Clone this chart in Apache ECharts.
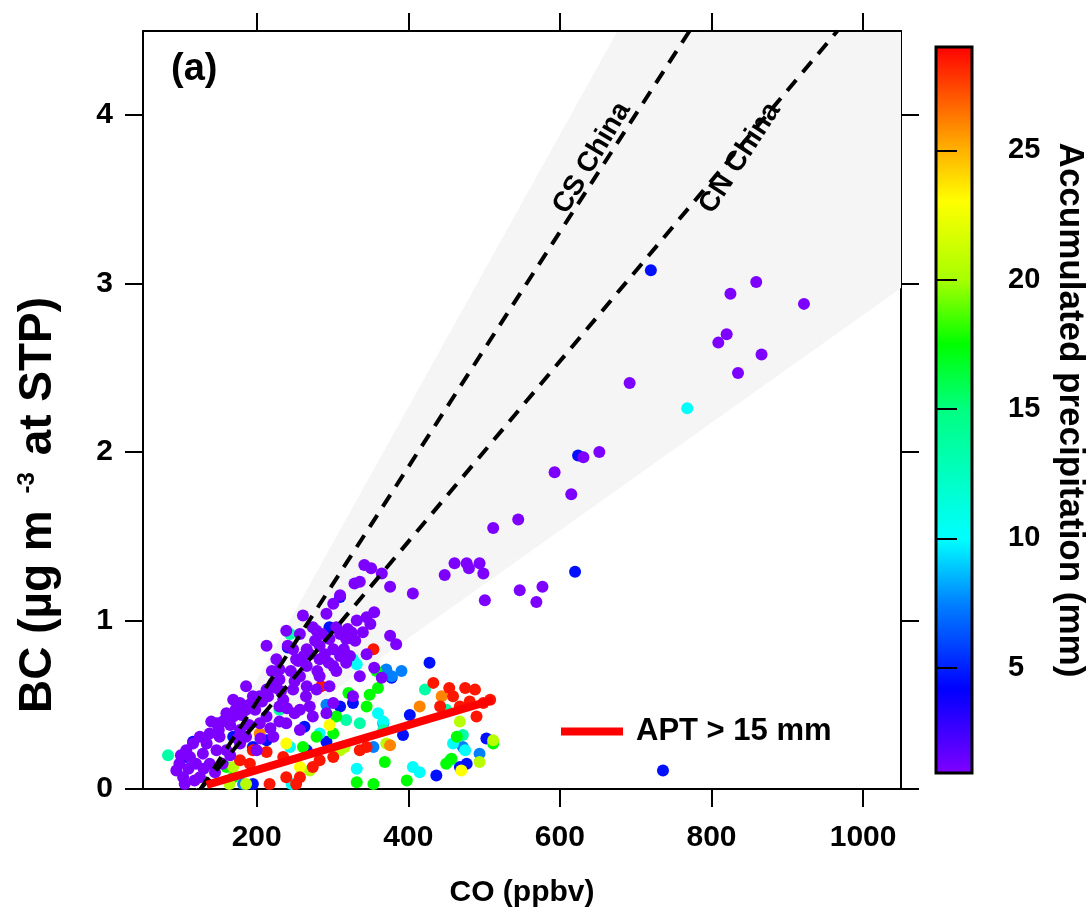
<!DOCTYPE html>
<html><head><meta charset="utf-8">
<script src="https://cdn.jsdelivr.net/npm/echarts@6/dist/echarts.min.js"></script>
<style>html,body{margin:0;padding:0;background:#fff}#c{width:1088px;height:913px}</style>
</head><body><div id="c"></div>
<script>
// ---- axis ticks ----
const coTicks = [200, 400, 600, 800, 1000];
const bcTicks = [0, 1, 2, 3, 4];
const aptTicks = [5, 10, 15, 20, 25];

// ---- reference lines / shading (CO ppbv, BC ug m-3) ----
const csChina = [[126, 0], [771, 4.5]];
const cnChina = [[126, 0], [966, 4.5]];
const wedge = [[120, 0], [676, 4.5], [1050, 4.5], [1050, 2.975]];
const aptFit = [[134, 0.024], [512, 0.529]];

// ---- observations grouped by accumulated precipitation (mm) ----
const aptPurple = 1.0;
const ptsPurple = [[342,1.33],[351,1.31],[329,1.22],[336,1.23],[376,1.20],[406,1.16],[448,1.27],[461,1.34],[477,1.34],[480,1.31],[494,1.34],[499,1.28],[501,1.12],[547,1.18],[569,1.11],[577,1.20],[310,1.15],[301,1.10],[292,1.04],[332,1.00],[325,0.93],[340,0.93],[376,0.91],[384,0.86],[279,0.94],[257,0.92],[241,0.85],[226,0.77],[230,0.71],[213,0.85],[239,0.94],[261,1.03],[274,0.96],[266,0.73],[283,0.77],[301,0.83],[310,0.92],[310,0.79],[323,0.79],[336,0.67],[296,0.61],[270,0.49],[292,0.45],[257,0.67],[279,0.59],[235,0.53],[222,0.63],[186,0.61],[169,0.53],[160,0.45],[186,0.47],[204,0.55],[138,0.33],[116,0.27],[98,0.15],[105,0.03],[112,0.19],[147,0.23],[134,0.27],[204,0.39],[178,0.35],[160,0.23],[138,0.15],[125,0.07],[200,0.23],[239,0.39],[257,0.35],[222,0.31],[318,0.89],[305,0.96],[296,0.89],[283,0.85],[266,0.83],[252,0.77],[248,0.83],[230,0.65],[213,0.59],[195,0.55],[178,0.51],[169,0.43],[147,0.39],[151,0.31],[125,0.31],[107,0.23],[94,0.11],[103,0.07],[120,0.15],[129,0.21],[178,0.27],[186,0.31],[213,0.43],[230,0.49],[248,0.59],[266,0.61],[283,0.67],[301,0.73],[318,0.75],[274,0.43],[301,0.51],[327,0.55],[257,0.47],
  [150,0.35],[155,0.40],[165,0.38],[172,0.47],[180,0.44],[190,0.50],[198,0.47],[207,0.52],[215,0.55],[220,0.70],[226,0.60],[232,0.58],[245,0.70],[250,0.64],[255,0.76],[262,0.79],[270,0.80],[277,0.88],[286,0.92],[290,0.80],[295,0.75],[305,0.70],[315,0.83],[320,0.95],[330,0.88],[345,0.80],[355,0.72],[365,0.66],[280,0.70],[265,0.55],[250,0.45],[240,0.48],[230,0.40],[218,0.36],[205,0.30],[190,0.38],[175,0.30],[165,0.20],[155,0.15],[145,0.10],[130,0.12],[118,0.05],[110,0.12],[100,0.20],[140,0.40],[355,1.05],[365,1.28],[345,1.02],[350,0.98],
  [512,1.55],[545,1.60],[859,3.01],[825,2.94],[922,2.88],[820,2.70],[809,2.65],[866,2.58],[835,2.47],[692,2.41],[631,1.97],[652,2.00],[593,1.88],[615,1.75]];
const aptBlue = 4.6;
const ptsBlue = [[428,0.75],[503,0.30],[468,0.13],[477,0.15],[437,0.08],[402,0.44],[393,0.32],[378,0.66],[327,0.51],[310,0.49],[263,0.37],[241,0.84],[296,0.96],[321,0.90],[310,1.14],[195,0.25],[213,0.29],[116,0.28],[107,0.19],[266,0.23],[292,0.28],[169,0.31],[195,0.03],[736,0.11],[720,3.08],[624,1.98],[620,1.29]];
const aptAzure = 7.5;
const ptsAzure = [[391,0.70],[378,0.67],[371,0.71],[494,0.21],[472,0.25],[292,0.50],[354,0.25],[367,0.39],[182,0.03]];
const aptCyan = 10.2;
const ptsCyan = [[327,0.77],[332,0.74],[332,0.12],[360,0.45],[367,0.40],[406,0.13],[415,0.10],[475,0.23],[459,0.27],[283,0.33],[246,0.03],[244,0.25],[768,2.26]];
const aptSpring = 13.5;
const ptsSpring = [[422,0.59],[450,0.47],[230,0.47],[367,0.35],[318,0.41],[336,0.39],[455,0.17],[472,0.32],[83,0.20],[244,0.92]];
const aptGreen = 17.5;
const ptsGreen = [[358,0.70],[369,0.16],[349,0.56],[360,0.60],[321,0.57],[345,0.49],[305,0.43],[332,0.04],[354,0.03],[398,0.05],[464,0.31],[512,0.27],[457,0.18],[450,0.15],[301,0.33],[279,0.31],[261,0.25],[160,0.13],[169,0.07]];
const aptLime = 20.5;
const ptsLime = [[468,0.40],[494,0.16],[512,0.29],[371,0.27],[310,0.23],[316,0.25],[270,0.11],[186,0.03],[169,0.13],[164,0.03]];
const aptYellow = 23;
const ptsYellow = [[296,0.38],[239,0.27],[257,0.13],[470,0.11]];
const aptOrange = 26;
const ptsOrange = [[415,0.49],[444,0.55],[204,0.33],[376,0.26]];
const aptRed = 28.5;
const ptsRed = [[354,0.83],[285,0.61],[433,0.63],[454,0.60],[475,0.60],[488,0.59],[490,0.43],[508,0.53],[499,0.51],[442,0.49],[468,0.49],[195,0.23],[213,0.22],[191,0.15],[235,0.19],[217,0.03],[239,0.07],[257,0.07],[274,0.13],[336,0.23],[345,0.25],[301,0.19],[283,0.17],[178,0.17],[252,0.03],[481,0.52],[459,0.55]];

// ---- colour scale (style) ----
const aptMin = 0.93, aptMax = 29;
const cmap = [[0.93,'#8000ff'],[4.2,'#0000ff'],[7.5,'#0080ff'],[10,'#00ffff'],[15,'#00ff80'],[17.5,'#00ff00'],[20,'#a8ff00'],[23,'#ffff00'],[25,'#ffb000'],[29,'#ff0000']];
function hex2rgb(h){return [parseInt(h.substr(1,2),16),parseInt(h.substr(3,2),16),parseInt(h.substr(5,2),16)];}
function colorAt(v){
  if (v <= cmap[0][0]) return cmap[0][1];
  for (let i=1;i<cmap.length;i++){
    if (v <= cmap[i][0]){
      const a=hex2rgb(cmap[i-1][1]), b=hex2rgb(cmap[i][1]);
      const t=(v-cmap[i-1][0])/(cmap[i][0]-cmap[i-1][0]);
      return 'rgb('+a.map((c,k)=>Math.round(c+(b[k]-c)*t)).join(',')+')';
    }
  }
  return cmap[cmap.length-1][1];
}
const barGradient = {type:'linear', x:0, y:1, x2:0, y2:0, colorStops: cmap.map(s=>({offset:(s[0]-aptMin)/(aptMax-aptMin), color:s[1]}))};

const groups = [[ptsBlue,aptBlue],[ptsAzure,aptAzure],[ptsCyan,aptCyan],[ptsSpring,aptSpring],[ptsGreen,aptGreen],[ptsLime,aptLime],[ptsYellow,aptYellow],[ptsOrange,aptOrange],[ptsRed,aptRed],[ptsPurple,aptPurple]];
const scatterData = [];
groups.forEach(g => g[0].forEach(p => scatterData.push([p[0], p[1], g[1]])));

const FONT = "'Liberation Sans', Arial, sans-serif";
const txt = (size) => ({fontSize:size, fontWeight:'bold', color:'#000', fontFamily:FONT});
const axLine = {show:true, onZero:false, lineStyle:{color:'#000', width:2}};
const tick = (vals, len) => ({show:true, inside:false, length:len || 18, customValues:vals, lineStyle:{color:'#000', width:2}});
const plain = v => String(v);

const chart = echarts.init(document.getElementById('c'));
chart.setOption({
  animation:false,
  backgroundColor:'#fff',
  title:{text:'(a)', left:166, top:46, textStyle:txt(38)},
  legend:{data:['APT > 15 mm'], left:556, top:711, icon:'rect', itemWidth:62, itemHeight:8, textStyle:Object.assign(txt(31),{padding:[0,0,0,8]})},
  grid:[
    {left:143, top:31, width:758, height:758, show:false},
    {left:936, top:47, width:40, height:726, show:true, backgroundColor:barGradient, borderColor:'#000', borderWidth:3}
  ],
  xAxis:[
    {type:'value', gridIndex:0, position:'bottom', min:50, max:1050,
     name:'CO (ppbv)', nameLocation:'middle', nameGap:89, nameTextStyle:txt(30),
     axisLine:axLine, axisTick:tick(coTicks), axisLabel:Object.assign(txt(30),{customValues:coTicks, margin:34, formatter:plain}), splitLine:{show:false}},
    {type:'value', gridIndex:0, position:'top', min:50, max:1050, z:3,
     axisLine:axLine, axisTick:tick(coTicks), axisLabel:{show:false}, splitLine:{show:false}},
    {type:'value', gridIndex:1, min:0, max:1, show:false}
  ],
  yAxis:[
    {type:'value', gridIndex:0, position:'left', min:0, max:4.5,
     name:'{a|BC (µg m }{s|-3}{a| at STP)}', nameLocation:'middle', nameGap:64, nameRotate:90,
     nameTextStyle:{padding:[0,190,0,0], rich:{
       a:Object.assign(txt(46),{lineHeight:46, verticalAlign:'bottom'}),
       s:Object.assign(txt(24),{lineHeight:24, verticalAlign:'top', padding:[0,4,46,4]})}},
     axisLine:axLine, axisTick:tick(bcTicks), axisLabel:Object.assign(txt(30),{customValues:bcTicks, margin:30, formatter:plain}), splitLine:{show:false}},
    {type:'value', gridIndex:0, position:'right', min:0, max:4.5,
     axisLine:axLine, axisTick:tick(bcTicks), axisLabel:{show:false}, splitLine:{show:false}},
    {type:'value', gridIndex:1, position:'right', min:aptMin, max:aptMax,
     name:'Accumulated precipitation (mm)', nameLocation:'middle', nameGap:80, nameRotate:-90, nameTextStyle:txt(35),
     axisLine:{show:false}, axisTick:tick(aptTicks, 21), axisLabel:Object.assign(txt(29),{customValues:aptTicks, margin:36, formatter:plain}), splitLine:{show:false}}
  ],
  graphic:[
    {type:'text', x:592, y:158, rotation:59*Math.PI/180, z:10,
     style:{text:'CS China', font:'bold 28px "Liberation Sans", Arial', fill:'#000', align:'center', verticalAlign:'middle', textAlign:'center', textVerticalAlign:'middle'}},
    {type:'text', x:740, y:158, rotation:57*Math.PI/180, z:10,
     style:{text:'CN China', font:'bold 28px "Liberation Sans", Arial', fill:'#000', align:'center', verticalAlign:'middle', textAlign:'center', textVerticalAlign:'middle'}}
  ],
  series:[
    {type:'custom', name:'range', xAxisIndex:0, yAxisIndex:0, z:1, silent:true, data:wedge,
     renderItem:(params, api) => {
       if (params.dataIndex !== 0) return null;
       return {type:'polygon', shape:{points: wedge.map(p => api.coord(p))}, style:{fill:'#f5f5f5'}};
     }},
    {type:'scatter', name:'obs', xAxisIndex:0, yAxisIndex:0, z:2, symbolSize:12, data:scatterData,
     itemStyle:{opacity:1, color:(p)=>colorAt(p.value[2])}},
    {type:'line', name:'CS China', xAxisIndex:0, yAxisIndex:0, z:3, symbol:'none', data:csChina,
     lineStyle:{color:'#000', width:4, type:[14,10]}},
    {type:'line', name:'CN China', xAxisIndex:0, yAxisIndex:0, z:3, symbol:'none', data:cnChina,
     lineStyle:{color:'#000', width:4, type:[14,10]}},
    {type:'line', name:'APT > 15 mm', xAxisIndex:0, yAxisIndex:0, z:4, symbol:'none', data:aptFit,
     itemStyle:{color:'#ff0000'}, lineStyle:{color:'#ff0000', width:8}}
  ]
});
</script></body></html>
